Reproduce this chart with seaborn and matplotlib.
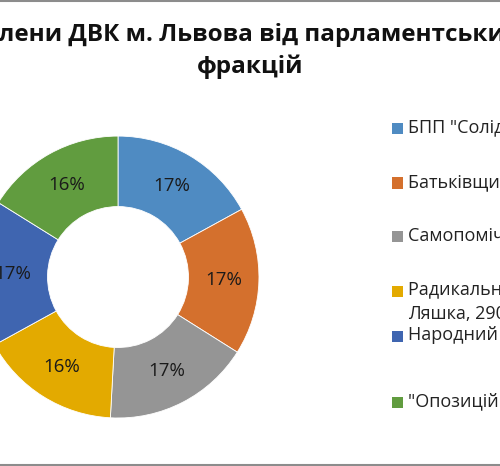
import matplotlib.pyplot as plt
import seaborn as sns
from matplotlib.patches import Rectangle
from matplotlib.lines import Line2D

# Members of Lviv district election commissions by parliamentary faction
parties = ['БПП "Солідарність", 306', 'Батьківщина, 304', 'Самопоміч, 304',
           'Радикальна партія Олега\nЛяшка, 290', 'Народний фронт, 303',
           '"Опозиційний блок", 290']
members = [306, 304, 304, 290, 303, 290]
colors = ['#4F8BC2', '#D4702D', '#959595', '#E3AA00', '#3F65B0', '#619C3F']
title = 'Члени ДВК м. Львова від парламентських\nфракцій'

sns.set_style("white")
plt.rcParams['font.family'] = ['Open Sans', 'DejaVu Sans']

fig = plt.figure(figsize=(5, 4.66), dpi=100)

# donut, partly outside the left edge like the cropped screenshot
ax = fig.add_axes([-0.046, 0.103, 0.564, 0.605])
wedges, texts, autotexts = ax.pie(members, colors=colors, startangle=90, counterclock=False,
                                  autopct='%1.0f%%', pctdistance=0.75,
                                  wedgeprops=dict(width=0.5, edgecolor='white', linewidth=0.6),
                                  textprops=dict(fontsize=13.5, color='#1a1a1a'))
ax.set_xlim(-1, 1)
ax.set_ylim(-1, 1)
ax.axis('off')

fig.text(0.5, 1 - 51 / 466, title, ha='center', va='center', fontsize=17.5,
         fontweight='bold', linespacing=1.4, color='#111111')

# legend, laid out by hand (the Excel one has uneven row gaps)
rows_y = [129, 183, 237, 291, 336, 402]
for lab, col, y in zip(parties, colors, rows_y):
    yf = 1 - y / 466
    fig.patches.append(Rectangle((392 / 500, yf - 5.5 / 466), 11 / 500, 11 / 466,
                                 transform=fig.transFigure, facecolor=col, edgecolor='none'))
    fig.text(408 / 500, yf + 10 / 466, lab, ha='left', va='top', fontsize=13,
             linespacing=1.45, color='#222222')

# grey frame lines at top and bottom
fig.add_artist(Line2D([0, 1], [1 - 1 / 466, 1 - 1 / 466], transform=fig.transFigure,
                      color='#8c8c8c', linewidth=1.5))
fig.add_artist(Line2D([0, 1], [1.5 / 466, 1.5 / 466], transform=fig.transFigure,
                      color='#8c8c8c', linewidth=1.5))

fig.savefig('out.png', dpi=100)
